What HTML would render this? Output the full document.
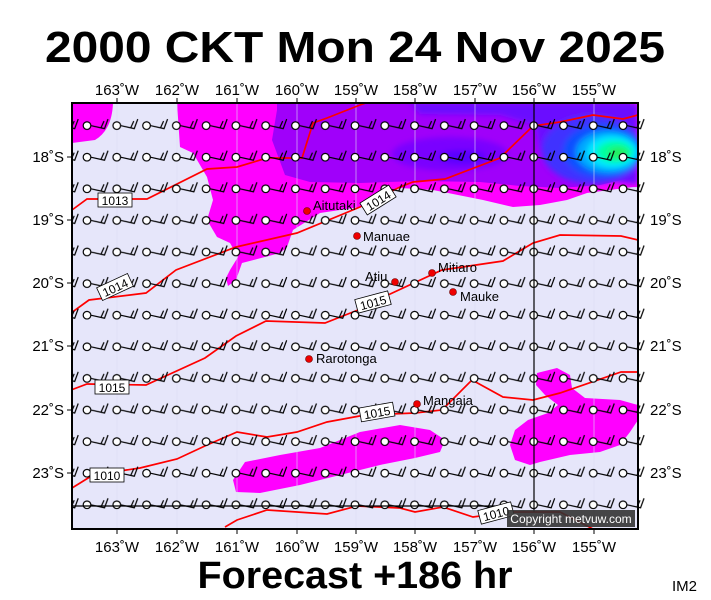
<!DOCTYPE html>
<html><head><meta charset="utf-8"><style>
html,body{margin:0;padding:0;background:#fff}
svg{display:block;font-family:"Liberation Sans",sans-serif}
</style></head><body>
<svg width="711" height="600" viewBox="0 0 711 600" xmlns="http://www.w3.org/2000/svg">
<defs>
<pattern id="barb" patternUnits="userSpaceOnUse" x="82.5" y="109.6" width="29.78" height="31.6">
<g stroke="#000" stroke-width="1.2" fill="none">
<path d="M8.3 16 L22 19 L25.5 9.5 M18.5 18.2 L21.5 11.5"/>
</g>
<circle cx="4.5" cy="16" r="3.8" fill="#fff" stroke="#000" stroke-width="1.2"/>
</pattern>
<clipPath id="box"><rect x="72" y="103" width="566" height="426"/></clipPath>
<filter id="bl"><feGaussianBlur stdDeviation="3"/></filter>
</defs>

<text x="355" y="62" text-anchor="middle" font-size="44" font-weight="bold" textLength="620" lengthAdjust="spacingAndGlyphs">2000 CKT Mon 24 Nov 2025</text>

<g clip-path="url(#box)">
<rect x="72" y="103" width="566" height="426" fill="#e6e6fa"/>
<path d="M72 103 L113 103 Q112 130 95 140 L72 143 Z" fill="#ff00ff"/>
<path d="M177 103 L638 103 L638 187 L633 187 L587 193 L567 200 L540 205 L513 207 L483 200 L433 190 L400 188 L360 207 L320 213 L293 230 L287 247 L280 253 L242 263 L236 280 L228 286 L226 278 L230 270 L238 257 L230 243 L217 237 L207 220 L213 200 L207 177 L193 153 L180 147 Z" fill="#ff00ff"/>
<path d="M277 103 L630 103 L630 178 L600 185 L560 188 L520 186 L480 182 L420 181 L360 183 L310 182 L285 175 L272 140 L277 110 Z" fill="#a000fa"/>
<g filter="url(#bl)">
<path d="M410 103 L638 103 L638 185 L600 180 L560 172 L540 150 L535 125 L500 115 L420 114 Z" fill="#6a10ff"/>
<ellipse cx="450" cy="154" rx="58" ry="17" fill="#7a00ff"/>
<ellipse cx="462" cy="157" rx="24" ry="7" fill="#5a00ff"/>
<ellipse cx="592" cy="150" rx="50" ry="34" fill="#4030ff"/>
<ellipse cx="603" cy="151" rx="40" ry="27" fill="#1050ff"/>
<ellipse cx="608" cy="152" rx="32" ry="21" fill="#00a8ff"/>
<ellipse cx="612" cy="152" rx="25" ry="16" fill="#00eaff"/>
<ellipse cx="615" cy="152" rx="18" ry="11" fill="#00ffa0"/>
<ellipse cx="618" cy="153" rx="10" ry="6" fill="#20f060"/>
</g>
<path d="M233 480 L245 462 L280 455 L320 448 L360 432 L400 425 L430 430 L445 440 L440 452 L415 458 L380 465 L340 475 L300 485 L260 493 L236 492 Z" fill="#ff00ff"/>
<path d="M537 373 L557 368 L570 375 L572 388 L585 398 L620 400 L638 405 L638 420 L630 432 L620 445 L600 452 L570 455 L540 462 L530 465 L515 460 L510 445 L515 430 L528 420 L548 413 L558 405 L545 395 L536 385 Z" fill="#ff00ff"/>
<g stroke="#dcdcf2" stroke-width="0.6">
<path d="M117 103V529M177 103V529M237 103V529M297 103V529M356 103V529M415 103V529M475 103V529M594 103V529"/>
</g>
<g stroke="#ff0000" stroke-width="1.7" fill="none">
<polyline points="72,210 87,199 147,199 207,169 237,167 267,158 302,158 313,123 327,118 360,105 380,98"/>
<polyline points="71,313 89,300 146,293 176,270 236,247 297,233 360,207 400,187 413,182 445,179 500,158 533,126 560,122 593,115 623,119 638,115"/>
<polyline points="71,390 87,384 146,385 205,358 236,336 266,321 325,323 358,310 388,295 442,270 503,261 533,243 560,235 621,236 638,240"/>
<polyline points="72,488 93,475 140,468 177,459 207,445 237,432 267,437 297,432 327,422 365,415 415,413 442,410 472,380 503,397 533,400 560,393 621,372 638,372"/>
<polyline points="225,527 237,520 267,510 327,514 357,506 400,508 415,512 443,507 473,517 510,512 560,512 593,529"/>
</g>
</g>
<rect x="72" y="110" width="575" height="410" fill="url(#barb)"/>
<g clip-path="url(#box)">
<path d="M72 506 H510 M534 103 V512" stroke="#000" stroke-width="1.2"/>
<g font-size="12" text-anchor="middle">
<rect x="98" y="193" width="34" height="14" fill="#fff" stroke="#000" stroke-width="0.8"/><text x="115" y="205">1013</text>
<g transform="rotate(-25 115 287)"><rect x="98" y="280" width="34" height="14" fill="#fff" stroke="#000" stroke-width="0.8"/><text x="115" y="292">1014</text></g>
<g transform="rotate(-32 378 200)"><rect x="361" y="193" width="34" height="14" fill="#fff" stroke="#000" stroke-width="0.8"/><text x="378" y="205">1014</text></g>
<g transform="rotate(-15 373 302)"><rect x="356" y="295" width="34" height="14" fill="#fff" stroke="#000" stroke-width="0.8"/><text x="373" y="307">1015</text></g>
<rect x="95" y="380" width="34" height="14" fill="#fff" stroke="#000" stroke-width="0.8"/><text x="112" y="392">1015</text>
<g transform="rotate(-10 377 412)"><rect x="360" y="405" width="34" height="14" fill="#fff" stroke="#000" stroke-width="0.8"/><text x="377" y="417">1015</text></g>
<rect x="90" y="468" width="34" height="14" fill="#fff" stroke="#000" stroke-width="0.8"/><text x="107" y="480">1010</text>
<g transform="rotate(-15 496 513)"><rect x="479" y="506" width="34" height="14" fill="#fff" stroke="#000" stroke-width="0.8"/><text x="496" y="518">1010</text></g>
</g>
<g fill="#ee0000" stroke="#600" stroke-width="0.6">
<circle cx="307" cy="211" r="3.5"/><circle cx="357" cy="236" r="3.5"/><circle cx="395" cy="282" r="3.5"/>
<circle cx="432" cy="273" r="3.5"/><circle cx="453" cy="292" r="3.5"/><circle cx="309" cy="359" r="3.5"/><circle cx="417" cy="404" r="3.5"/>
</g>
<g font-size="13" fill="#000">
<text x="313" y="210">Aitutaki</text><text x="363" y="241">Manuae</text><text x="365" y="281">Atiu</text>
<text x="438" y="272">Mitiaro</text><text x="460" y="301">Mauke</text><text x="316" y="363">Rarotonga</text><text x="423" y="405">Mangaia</text>
</g>
<rect x="507" y="510" width="128" height="17" fill="#333" opacity="0.9"/>
<text x="571" y="523" font-size="12" fill="#fff" text-anchor="middle">Copyright metvuw.com</text>
</g>
<rect x="72" y="103" width="566" height="426" fill="none" stroke="#000" stroke-width="2"/>

<g stroke="#000" stroke-width="1">
<path d="M117 98V103M177 98V103M237 98V103M297 98V103M356 98V103M415 98V103M475 98V103M534 98V103M594 98V103"/>
<path d="M117 529V534M177 529V534M237 529V534M297 529V534M356 529V534M415 529V534M475 529V534M534 529V534M594 529V534"/>
<path d="M67 157H72M67 220H72M67 283H72M67 346H72M67 410H72M67 473H72"/>
</g>
<g font-size="15" text-anchor="middle">
<text x="117" y="95">163˚W</text><text x="177" y="95">162˚W</text><text x="237" y="95">161˚W</text><text x="297" y="95">160˚W</text><text x="356" y="95">159˚W</text><text x="415" y="95">158˚W</text><text x="475" y="95">157˚W</text><text x="534" y="95">156˚W</text><text x="594" y="95">155˚W</text>
<text x="117" y="552">163˚W</text><text x="177" y="552">162˚W</text><text x="237" y="552">161˚W</text><text x="297" y="552">160˚W</text><text x="356" y="552">159˚W</text><text x="415" y="552">158˚W</text><text x="475" y="552">157˚W</text><text x="534" y="552">156˚W</text><text x="594" y="552">155˚W</text>
</g>
<g font-size="15" text-anchor="end">
<text x="64" y="162">18˚S</text><text x="64" y="225">19˚S</text><text x="64" y="288">20˚S</text><text x="64" y="351">21˚S</text><text x="64" y="415">22˚S</text><text x="64" y="478">23˚S</text>
</g>
<g font-size="15">
<text x="650" y="162">18˚S</text><text x="650" y="225">19˚S</text><text x="650" y="288">20˚S</text><text x="650" y="351">21˚S</text><text x="650" y="415">22˚S</text><text x="650" y="478">23˚S</text>
</g>

<text x="355" y="588" text-anchor="middle" font-size="38" font-weight="bold" textLength="315" lengthAdjust="spacingAndGlyphs">Forecast +186 hr</text>
<text x="672" y="591" font-size="15">IM2</text>
</svg>
</body></html>
